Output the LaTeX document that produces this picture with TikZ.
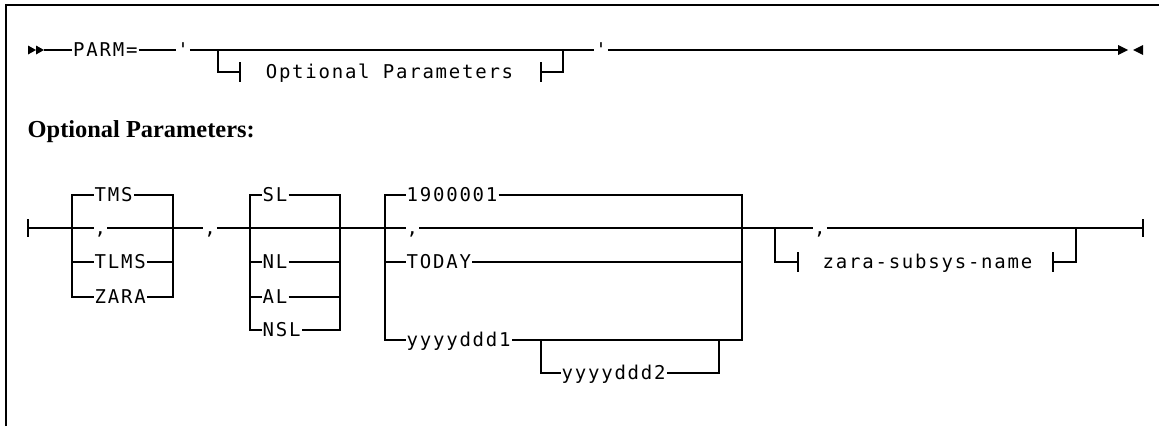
\documentclass[tikz,border=0pt]{standalone}
\usepackage{fontspec}
\setmainfont{Liberation Serif}
\newfontfamily\monofam[LetterSpace=9.3]{DejaVu Sans Mono}
\begin{document}
\begin{tikzpicture}[x=1pt,y=-1pt,
  rr/.style={line width=1.2pt},
  lbl/.style={font=\monofam\fontsize{19}{21}\selectfont, inner xsep=1pt, inner ysep=0pt, text height=13.8pt, text depth=0pt, anchor=west},
  frameline/.style={line width=2pt},
  tick/.style={line width=1.2pt}
]
\useasboundingbox (0,0) rectangle (1159,426);
\draw[frameline] (5.5,426) -- (5.5,5) -- (1159,5);

% ---------- top row ----------
\coordinate (s0) at (44,50);
\fill (28,45.5) -- (36,50) -- (28,54.5) -- cycle;
\fill (36,45.5) -- (44,50) -- (36,54.5) -- cycle;
\node[lbl] (parm) at (72,50) {PARM=};
\node[lbl,anchor=center] (q1) at (183,50) {'};
\node[lbl,anchor=center] (q2) at (601,50) {'};
\coordinate (b1) at (218,50);
\coordinate (b2) at (563,50);
\coordinate (e0) at (1118,50);
\draw[rr] (s0) -- (parm.west);
\draw[rr] (parm.east) -- (q1.west);
\draw[rr] (q1.east) -- (q2.west);
\draw[rr] (q2.east) -- (e0);
\fill (1118,45) -- (1128,50) -- (1118,55) -- cycle;
\fill (1143,45) -- (1133,50) -- (1143,55) -- cycle;
\coordinate (t1) at (240,72);
\coordinate (t2) at (541,72);
\node[lbl,anchor=center] (opt) at (389.5,72) {Optional Parameters};
\draw[rr] (b1) |- (t1);
\draw[tick] (t1) ++(0,-10) -- ++(0,20);
\draw[rr] (t2) -| (b2);
\draw[tick] (t2) ++(0,-10) -- ++(0,20);

% ---------- heading ----------
\node[font=\bfseries\fontsize{24.4}{28}\selectfont, anchor=base west, inner sep=0pt] (hd) at (27.5,137) {Optional Parameters:};

% ---------- second row ----------
\coordinate (r0) at (28,228);
\draw[tick] (r0) ++(0,-9) -- ++(0,18);
% group 1
\coordinate (g1l) at (72,228);
\coordinate (g1r) at (173,228);
\node[lbl] (tms) at (93.5,195) {TMS};
\node[lbl] (c1) at (93.5,228) {,};
\node[lbl] (tlms) at (93.5,262) {TLMS};
\node[lbl] (zara) at (93.5,297) {ZARA};
\draw[rr] (r0) -- (c1.west);
\draw[rr] (tms.west) -| (g1l) |- (zara.west);
\draw[rr] (tlms.west) -- (tlms.west -| g1l);
\draw[rr] (tms.east) -| (g1r) |- (zara.east);
\draw[rr] (tlms.east) -- (tlms.east -| g1r);
\draw[rr] (c1.east) -- (g1r);
% comma between groups
\node[lbl,anchor=center] (c2) at (210,228) {,};
\draw[rr] (g1r) -- (c2.west);
% group 2
\coordinate (g2l) at (250,228);
\coordinate (g2r) at (340,228);
\node[lbl] (sl) at (261.5,195) {SL};
\node[lbl] (nl) at (261.5,262) {NL};
\node[lbl] (al) at (261.5,297) {AL};
\node[lbl] (nsl) at (261.5,330) {NSL};
\draw[rr] (sl.west) -| (g2l) |- (nsl.west);
\draw[rr] (nl.west) -- (nl.west -| g2l);
\draw[rr] (al.west) -- (al.west -| g2l);
\draw[rr] (sl.east) -| (g2r) |- (nsl.east);
\draw[rr] (nl.east) -- (nl.east -| g2r);
\draw[rr] (al.east) -- (al.east -| g2r);
% group 3
\coordinate (g3l) at (385,228);
\coordinate (g3r) at (742,228);
\node[lbl] (d19) at (405.5,195) {1900001};
\node[lbl] (c3) at (405.5,228) {,};
\node[lbl] (today) at (405.5,262) {TODAY};
\node[lbl] (y1) at (405.5,340) {yyyyddd1};
\draw[rr] (c2.east) -- (c3.west);
\draw[rr] (d19.west) -| (g3l) |- (y1.west);
\draw[rr] (today.west) -- (today.west -| g3l);
\draw[rr] (d19.east) -| (g3r) |- (y1.east);
\draw[rr] (today.east) -- (today.east -| g3r);
\coordinate (s3l) at (541,340);
\coordinate (s3r) at (719,340);
\node[lbl] (y2) at (560.5,373) {yyyyddd2};
\draw[rr] (s3l) |- (y2.west);
\draw[rr] (y2.east) -| (s3r);
% group 4 (optional)
\coordinate (g4l) at (775,228);
\coordinate (g4r) at (1076,228);
\node[lbl] (c4) at (813,228) {,};
\draw[rr] (c3.east) -- (c4.west);
\coordinate (t3) at (798,262);
\coordinate (t4) at (1053,262);
\node[lbl,anchor=center] (zsn) at (927.5,262) {zara-subsys-name};
\draw[rr] (g4l) |- (t3);
\draw[tick] (t3) ++(0,-10) -- ++(0,20);
\draw[rr] (t4) -| (g4r);
\draw[tick] (t4) ++(0,-10) -- ++(0,20);
\coordinate (e1) at (1143,228);
\draw[rr] (c4.east) -- (e1);
\draw[tick] (e1) ++(0,-9) -- ++(0,18);
\end{tikzpicture}
\end{document}
